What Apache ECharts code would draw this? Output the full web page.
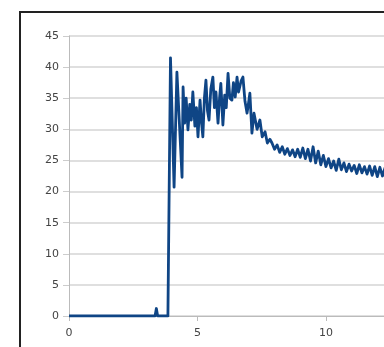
<!DOCTYPE html>
<html>
<head>
<meta charset="utf-8">
<script src="https://cdn.jsdelivr.net/npm/echarts@6/dist/echarts.min.js"></script>
<style>
  html, body { margin: 0; padding: 0; background: #fff; }
  #chart { width: 384px; height: 347px; }
</style>
</head>
<body>
<div id="chart"></div>
<script>
// x positions and readings
var xValues = [
  0, 3.35, 3.4, 3.45, 3.85,
  3.95, 4.09, 4.20, 4.40, 4.44, 4.50, 4.56, 4.63, 4.70, 4.76, 4.82, 4.90, 4.96,
  5.02, 5.10, 5.16, 5.21, 5.27, 5.33, 5.39, 5.45, 5.52, 5.60, 5.66, 5.72, 5.80,
  5.86, 5.91, 5.99, 6.06, 6.12, 6.19, 6.26, 6.34, 6.40, 6.47, 6.54, 6.60, 6.65,
  6.70, 6.77, 6.85, 6.93, 6.98, 7.04, 7.12, 7.20,
  7.32, 7.43, 7.52, 7.63, 7.72, 7.82,
  7.9, 8.0, 8.1, 8.2, 8.3, 8.4, 8.5, 8.6, 8.7, 8.8, 8.9, 9.0, 9.1, 9.2, 9.3,
  9.4, 9.5, 9.6, 9.7, 9.8, 9.9, 10.0, 10.1, 10.2, 10.3, 10.4, 10.5, 10.6, 10.7,
  10.8, 10.9, 11.0, 11.1, 11.2, 11.3, 11.4, 11.5, 11.6, 11.7, 11.8, 11.9, 12.0,
  12.1, 12.2, 12.3, 12.4
];
var yValues = [
  0, 0, 1.2, 0, 0,
  41.5, 20.7, 39.2, 22.3, 36.8, 31, 35, 29.9, 34, 31.5, 36, 30.5, 33.5,
  28.8, 34.7, 31, 28.8, 35, 37.9, 33, 31.5, 36.5, 38.4, 33.5, 36, 31,
  35, 37.4, 30.7, 35.5, 33.5, 39, 35, 34.7, 37.5, 35.2, 38.4, 36, 35.8,
  37.8, 38.4, 34.5, 32.6, 34, 35.8, 29.4, 32.6,
  30, 31.5, 28.8, 29.6, 27.8, 28.4,
  27.8, 26.8, 27.5, 26.3, 27.2, 26.0, 26.9, 25.8, 26.7, 25.6, 26.8, 25.5, 27.0, 25.3, 26.8,
  24.9, 27.2, 24.6, 26.5, 24.3, 25.8, 24.0, 25.3, 23.8, 24.9, 23.4, 25.2, 23.5, 24.6,
  23.2, 24.4, 23.3, 24.2, 22.9, 24.3, 23.0, 24.0, 22.8, 24.1, 22.6, 24.0, 22.4,
  23.9, 22.5, 23.8, 23.0
];

var points = xValues.map(function (x, i) { return [x, yValues[i]]; });

var chart = echarts.init(document.getElementById('chart'));

chart.setOption({
  backgroundColor: '#fff',
  animation: false,
  grid: { left: 69, top: 36, right: 0, bottom: 31 },
  graphic: [{
    type: 'rect',
    shape: { x: 20, y: 12, width: 600, height: 600 },
    style: { fill: 'none', stroke: '#222', lineWidth: 2 },
    z: 100
  }],
  xAxis: {
    type: 'value',
    min: 0,
    max: 12.26,
    interval: 5,
    axisLine: { lineStyle: { color: '#bbb', width: 1 } },
    axisTick: { show: true, length: 5, lineStyle: { color: '#bbb' } },
    axisLabel: {
      color: '#444', fontSize: 11, margin: 12, fontFamily: 'DejaVu Sans',
      showMaxLabel: false,
      formatter: function (v) { return v % 5 === 0 ? String(v) : ''; }
    },
    splitLine: { show: false }
  },
  yAxis: {
    type: 'value',
    min: 0,
    max: 45,
    interval: 5,
    axisLine: { show: true, lineStyle: { color: '#bbb', width: 1 } },
    axisTick: { show: true, length: 6, lineStyle: { color: '#ccc' } },
    axisLabel: { color: '#444', fontSize: 11, margin: 10, fontFamily: 'DejaVu Sans' },
    splitLine: { lineStyle: { color: '#d4d4d4', width: 1.5 } }
  },
  series: [{
    type: 'line',
    data: points,
    showSymbol: false,
    clip: true,
    lineStyle: { color: '#0f4585', width: 2.8, join: 'round' }
  }]
});
</script>
</body>
</html>
